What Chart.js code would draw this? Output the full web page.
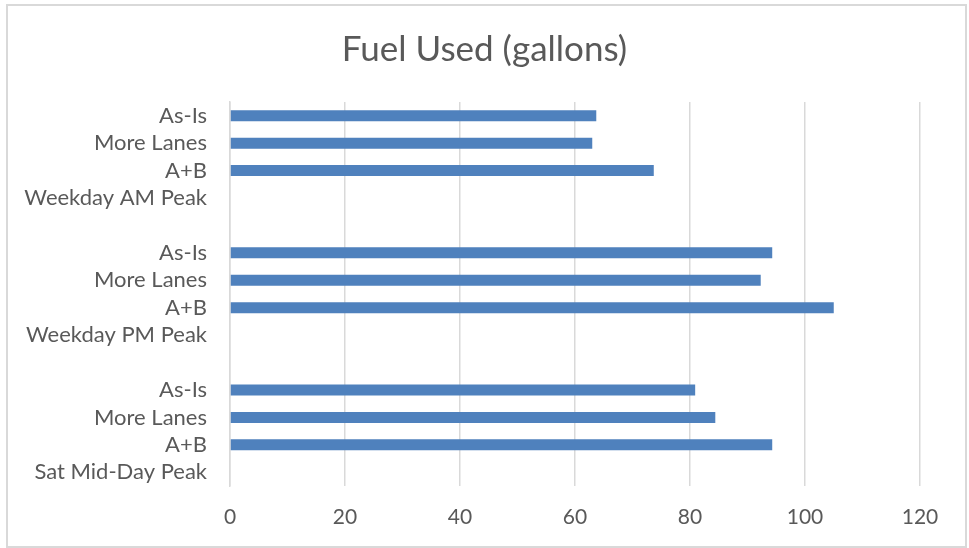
<!DOCTYPE html>
<html>
<head>
<meta charset="utf-8">
<script src="https://cdn.jsdelivr.net/npm/chart.js@4"></script>
<style>
  html, body { margin: 0; padding: 0; background: #fff; }
  #wrap { position: relative; width: 969px; height: 548px; }
  #frame { position: absolute; left: 6px; top: 4px; width: 957px; height: 540px; border: 2px solid #d9d9d9; box-sizing: content-box; pointer-events: none; }
  canvas { position: absolute; left: 0; top: 0; }
</style>
</head>
<body>
<div id="wrap">
  <canvas id="c" width="969" height="548"></canvas>
  <div id="frame"></div>
</div>
<script>
const categories = [
  'As-Is', 'More Lanes', 'A+B', 'Weekday AM Peak', '',
  'As-Is', 'More Lanes', 'A+B', 'Weekday PM Peak', '',
  'As-Is', 'More Lanes', 'A+B', 'Sat Mid-Day Peak'
];
const fuelUsed = [
  63.7, 63.0, 73.7, null, null,
  94.3, 92.3, 105.0, null, null,
  80.9, 84.4, 94.3, null
];
const xTicks = [0, 20, 40, 60, 80, 100, 120];

const FONT = 'Lato, "Open Sans", sans-serif';
const TEXT = '#595959';

new Chart(document.getElementById('c'), {
  type: 'bar',
  data: {
    labels: categories,
    datasets: [{
      label: 'Fuel Used (gallons)',
      data: fuelUsed,
      backgroundColor: '#4f81bd',
      borderWidth: 0,
      barPercentage: 0.4,
      categoryPercentage: 1.0,
      xAxisID: 'x',
      yAxisID: 'y'
    }]
  },
  options: {
    indexAxis: 'y',
    responsive: false,
    animation: false,
    layout: { padding: { left: 0, right: 0, top: 0, bottom: 18 } },
    plugins: {
      legend: { display: false },
      tooltip: { enabled: false },
      title: {
        display: true,
        text: 'Fuel Used (gallons)',
        color: TEXT,
        font: { family: FONT, size: 35, weight: 'normal', lineHeight: 1.2 },
        padding: { top: 29, bottom: 31 }
      }
    },
    scales: {
      x: {
        min: 0, max: 120,
        afterBuildTicks: (s) => { s.ticks = xTicks.map(v => ({ value: v })); },
        afterFit: (s) => { s.height = 44; },
        grid: { color: '#d9d9d9', lineWidth: 1.5, drawTicks: false },
        border: { display: false },
        ticks: { color: TEXT, font: { family: FONT, size: 21 }, padding: 19 }
      },
      y: {
        afterFit: (s) => { s.width = 230; s.paddingTop = 0; s.paddingBottom = 0; },
        grid: { display: false, drawTicks: false },
        border: { display: true, color: '#d9d9d9', width: 1.5 },
        ticks: { color: TEXT, font: { family: FONT, size: 22 }, padding: 23, autoSkip: false }
      },
      yRight: {
        type: 'category',
        axis: 'y',
        position: 'right',
        labels: categories,
        afterFit: (s) => { s.width = 49; s.paddingTop = 0; s.paddingBottom = 0; },
        grid: { display: false, drawTicks: false },
        border: { display: false },
        ticks: { display: false }
      }
    }
  }
});
</script>
</body>
</html>
